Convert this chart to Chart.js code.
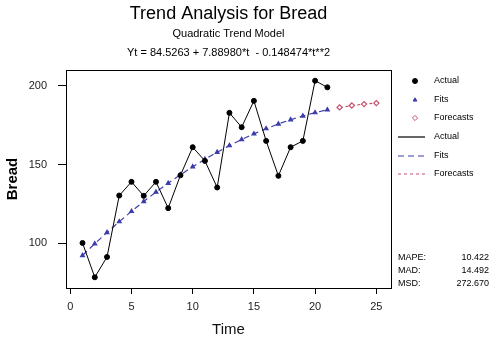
<!DOCTYPE html>
<html>
<head>
<meta charset="utf-8">
<title>Trend Analysis for Bread</title>
<script src="https://cdn.jsdelivr.net/npm/chart.js@4.4.1/dist/chart.umd.min.js"></script>
<style>
  html, body { margin: 0; padding: 0; background: #fff; }
  #trend { display: block; }
</style>
</head>
<body>
<canvas id="trend" width="495" height="337"></canvas>
<script>
// Bread series, quadratic trend fits and forecasts

var times = [1, 2, 3, 4, 5, 6, 7, 8, 9, 10, 11, 12, 13, 14, 15, 16, 17, 18, 19, 20, 21];
var actual = [100.2, 78.4, 91.3, 130.3, 139.0, 130.1, 139.0, 122.3, 143.2, 161.0, 152.3,
              135.4, 182.8, 173.7, 190.4, 165.0, 142.8, 161.0, 165.0, 203.2, 199.0];
var fits = [92.27, 99.71, 106.86, 113.71, 120.26, 126.52, 132.48, 138.14, 143.51, 148.58, 153.35,
            157.82, 162.00, 165.88, 169.47, 172.75, 175.74, 178.44, 180.83, 182.93, 184.74];
var forecastTimes = [22, 23, 24, 25];
var forecasts = [186.24, 187.45, 188.36, 188.98];

var xTicks = [0, 5, 10, 15, 20, 25];
var yTicks = [100, 150, 200];

var statNames = ["MAPE:", "MAD:", "MSD:"];
var statValues = ["10.422", "14.492", "272.670"];

var fitColor = "#3c3caa";
var fcColor = "#c8506e";
var font = "'Liberation Sans', Arial, sans-serif";

function pairs(xs, ys) {
    return xs.map(function(x, i) { return {x: x, y: ys[i]}; });
}

// titles, framed plot box, legend and accuracy measures
var decorations = {
    id: "decorations",
    afterDraw: function(chart) {
        var ctx = chart.ctx;
        var area = chart.chartArea;
        var cx = (area.left + area.right) / 2;

        ctx.save();
        ctx.strokeStyle = "#000";
        ctx.lineWidth = 1;
        ctx.strokeRect(Math.round(area.left) + 0.5, Math.round(area.top) + 0.5,
                       Math.round(area.right - area.left), Math.round(area.bottom - area.top));

        ctx.fillStyle = "#000";
        ctx.textAlign = "center";
        ctx.textBaseline = "middle";
        ctx.font = "18px " + font;
        ctx.fillText("Trend Analysis for Bread", cx, 14);
        ctx.font = "11px " + font;
        ctx.fillText("Quadratic Trend Model", cx, 34);
        ctx.fillText("Yt = 84.5263 + 7.88980*t  - 0.148474*t**2", cx, 53);

        // legend: symbols first, then line styles
        var ds = chart.data.datasets;
        var lx = 415, tx = 434;
        var symRows = [81, 100, 118];
        var lineRows = [137, 156, 174];
        ctx.textAlign = "left";
        ctx.font = "9px " + font;
        ds.forEach(function(d, i) {
            ctx.fillStyle = d.pointBackgroundColor;
            ctx.strokeStyle = d.pointBorderColor;
            Chart.helpers.drawPoint(ctx, {
                pointStyle: d.pointStyle,
                radius: d.pointRadius,
                rotation: 0,
                borderWidth: 1
            }, lx, symRows[i]);
            ctx.fillStyle = "#000";
            ctx.fillText(d.label, tx, symRows[i]);
        });
        ds.forEach(function(d, i) {
            ctx.beginPath();
            ctx.strokeStyle = d.borderColor;
            ctx.lineWidth = 1.2;
            ctx.setLineDash(d.borderDash || []);
            ctx.moveTo(398, lineRows[i]);
            ctx.lineTo(425, lineRows[i]);
            ctx.stroke();
            ctx.setLineDash([]);
            ctx.fillStyle = "#000";
            ctx.fillText(d.label, tx, lineRows[i]);
        });

        var statRows = [258, 271, 284];
        statNames.forEach(function(n, i) {
            ctx.textAlign = "left";
            ctx.fillText(n, 398, statRows[i]);
            ctx.textAlign = "right";
            ctx.fillText(statValues[i], 489, statRows[i]);
        });
        ctx.restore();
    }
};

var ctx = document.getElementById("trend");

var trendChart = new Chart(ctx, {
    type: "line",
    data: {
        datasets: [
            {
                label: "Actual",
                data: pairs(times, actual),
                borderColor: "#000",
                borderWidth: 1,
                pointStyle: "circle",
                pointRadius: 2.5,
                pointBackgroundColor: "#000",
                pointBorderColor: "#000",
                order: 0
            },
            {
                label: "Fits",
                data: pairs(times, fits),
                borderColor: fitColor,
                borderWidth: 1.2,
                borderDash: [6, 4],
                pointStyle: "triangle",
                pointRadius: 2.2,
                pointBackgroundColor: fitColor,
                pointBorderColor: fitColor,
                order: 1
            },
            {
                label: "Forecasts",
                data: pairs(forecastTimes, forecasts),
                borderColor: fcColor,
                borderWidth: 1.2,
                borderDash: [3, 3],
                pointStyle: "rectRot",
                pointRadius: 2.6,
                pointBackgroundColor: "#fff",
                pointBorderColor: fcColor,
                order: 2
            }
        ]
    },
    options: {
        responsive: false,
        animation: false,
        devicePixelRatio: 1,
        layout: { padding: { left: 0, top: 70, right: 104, bottom: 0 } },
        plugins: {
            legend: { display: false },
            tooltip: { enabled: false }
        },
        elements: { line: { tension: 0 } },
        scales: {
            x: {
                type: "linear",
                min: -0.35,
                max: 26.2,
                afterBuildTicks: function(scale) {
                    scale.ticks = xTicks.map(function(v) { return {value: v}; });
                },
                afterFit: function(scale) { scale.height = 49; },
                grid: { drawOnChartArea: false, drawTicks: true, tickLength: 6, color: "#000" },
                border: { display: false },
                ticks: { color: "#222", font: { family: font, size: 11 }, padding: 6, maxRotation: 0 },
                title: { display: true, text: "Time", color: "#111",
                         font: { family: font, size: 15, lineHeight: 1 }, padding: { top: 2, bottom: 0 } }
            },
            y: {
                min: 71.6,
                max: 210,
                afterBuildTicks: function(scale) {
                    scale.ticks = yTicks.map(function(v) { return {value: v}; });
                },
                afterFit: function(scale) { scale.width = 66; },
                grid: { drawOnChartArea: false, drawTicks: true, tickLength: 8, color: "#000" },
                border: { display: false },
                ticks: { color: "#222", font: { family: font, size: 11 }, padding: 11 },
                title: { display: true, text: "Bread", color: "#000",
                         font: { family: font, size: 15, weight: "bold" }, padding: { top: 4, bottom: 0 } }
            }
        }
    },
    plugins: [decorations]
});
</script>
</body>
</html>
